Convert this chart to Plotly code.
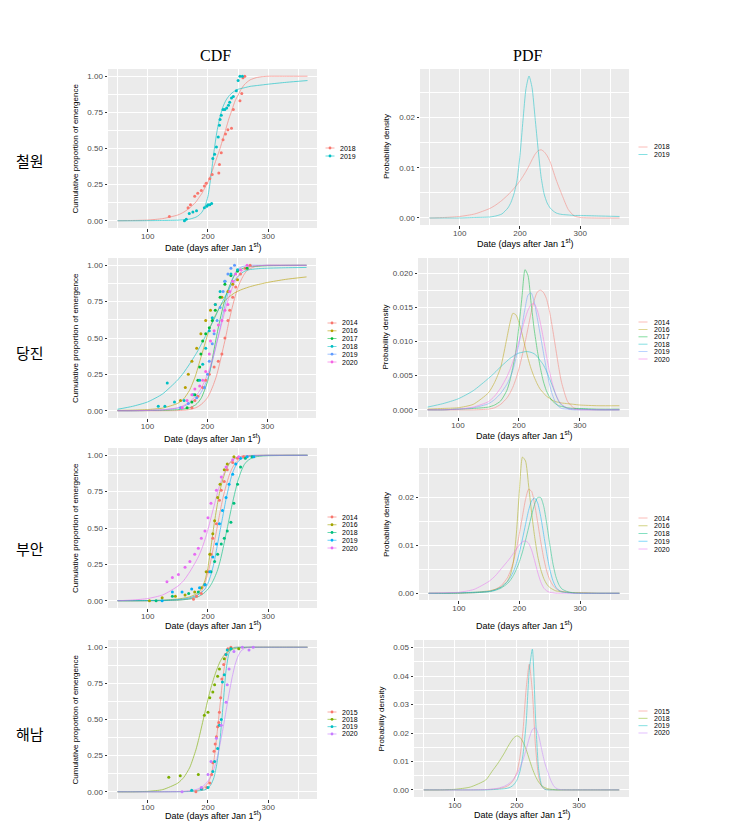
import plotly.graph_objects as go

# ---------------- data ----------------
DAYS = [50, 75, 100, 125, 150, 160, 170, 180, 185, 190, 195, 200, 205, 210, 215, 220,
        225, 230, 235, 240, 245, 250, 255, 260, 265, 270, 280, 290, 300, 330, 365]

# Row 1: 철원
CW_YEARS = ["2018", "2019"]
CW_CDF_2018 = [0.0, 0.002, 0.005, 0.015, 0.04, 0.06, 0.09, 0.13, 0.16, 0.19, 0.23, 0.27, 0.32, 0.38, 0.44, 0.5,
               0.57, 0.64, 0.71, 0.77, 0.83, 0.87, 0.91, 0.94, 0.96, 0.975, 0.99, 0.997, 1.0, 1.0, 1.0]
CW_CDF_2019 = [0, 0, 0.001, 0.002, 0.004, 0.007, 0.012, 0.025, 0.038, 0.06, 0.1, 0.17, 0.31, 0.48, 0.62, 0.72,
               0.79, 0.835, 0.865, 0.885, 0.9, 0.91, 0.915, 0.92, 0.925, 0.93, 0.935, 0.94, 0.945, 0.958, 0.97]
CW_PDF_2018 = [0.0, 0.0001, 0.0003, 0.0008, 0.0019, 0.0026, 0.0035, 0.0046, 0.0052, 0.0059, 0.0066, 0.0074, 0.0083,
               0.0093, 0.0104, 0.0116, 0.0127, 0.0134, 0.0136, 0.0132, 0.0124, 0.0112, 0.0094, 0.0076, 0.006, 0.0045,
               0.0017, 0.0004, 0.0001, 0.0, 0.0]
CW_PDF_2019 = [0, 0, 0.0, 0.0001, 0.0002, 0.0004, 0.0008, 0.002, 0.0031, 0.0048, 0.0074, 0.0125, 0.0195, 0.0258,
               0.0283, 0.026, 0.02, 0.0138, 0.0082, 0.0048, 0.003, 0.002, 0.0014, 0.001, 0.0008, 0.0007, 0.0006,
               0.0005, 0.0005, 0.0004, 0.0003]
CW_OBS_2018_D = [136, 167, 171, 178, 183, 189, 194, 197, 203, 207, 218, 219, 222, 225, 229, 233, 239, 242, 253, 256, 258, 261]
CW_OBS_2018_V = [0.03, 0.09, 0.11, 0.17, 0.19, 0.21, 0.24, 0.26, 0.29, 0.32, 0.33, 0.39, 0.47, 0.56, 0.6, 0.63, 0.64,
                 0.77, 0.83, 0.88, 0.99, 1.0]
CW_OBS_2019_D = [161, 164, 169, 175, 181, 194, 198, 200, 203, 206, 208, 211, 214, 217, 219, 220, 222, 225, 228, 231,
                 234, 236, 239, 242, 247, 250, 253, 257]
CW_OBS_2019_V = [0.0, 0.01, 0.05, 0.06, 0.07, 0.09, 0.1, 0.11, 0.11, 0.12, 0.43, 0.46, 0.51, 0.58, 0.66, 0.7, 0.73,
                 0.77, 0.77, 0.78, 0.8, 0.82, 0.85, 0.86, 0.9, 0.97, 1.0, 1.0]

# Row 2: 당진
DJ_YEARS = ["2014", "2016", "2017", "2018", "2019", "2020"]
DJ_CDF_2014 = [0, 0, 0, 0, 0.001, 0.003, 0.008, 0.02, 0.03, 0.045, 0.065, 0.09, 0.13, 0.18, 0.24, 0.32, 0.41, 0.5,
               0.6, 0.69, 0.77, 0.84, 0.89, 0.93, 0.96, 0.975, 0.992, 0.998, 1, 1, 1]
DJ_CDF_2016 = [0.002, 0.004, 0.008, 0.018, 0.05, 0.08, 0.14, 0.24, 0.31, 0.38, 0.45, 0.52, 0.58, 0.63, 0.67, 0.71,
               0.74, 0.76, 0.78, 0.795, 0.81, 0.82, 0.83, 0.838, 0.845, 0.852, 0.863, 0.873, 0.882, 0.903, 0.92]
DJ_CDF_2017 = [0, 0, 0.001, 0.003, 0.007, 0.012, 0.02, 0.04, 0.06, 0.09, 0.14, 0.2, 0.29, 0.4, 0.51, 0.61, 0.7, 0.78,
               0.84, 0.89, 0.93, 0.955, 0.97, 0.98, 0.985, 0.99, 0.993, 0.995, 0.997, 0.999, 1]
DJ_CDF_2018 = [0.01, 0.03, 0.06, 0.115, 0.21, 0.26, 0.32, 0.385, 0.42, 0.46, 0.5, 0.54, 0.58, 0.62, 0.665, 0.71,
               0.75, 0.79, 0.83, 0.865, 0.895, 0.92, 0.94, 0.955, 0.965, 0.97, 0.975, 0.978, 0.98, 0.983, 0.985]
DJ_CDF_2019 = [0, 0, 0.002, 0.006, 0.018, 0.03, 0.05, 0.08, 0.1, 0.13, 0.17, 0.22, 0.29, 0.37, 0.46, 0.55, 0.65,
               0.74, 0.82, 0.89, 0.94, 0.97, 0.985, 0.993, 0.997, 1, 1, 1, 1, 1, 1]
DJ_CDF_2020 = [0, 0, 0.002, 0.006, 0.02, 0.035, 0.06, 0.1, 0.125, 0.16, 0.2, 0.25, 0.31, 0.38, 0.46, 0.54, 0.62,
               0.7, 0.77, 0.83, 0.88, 0.92, 0.95, 0.97, 0.982, 0.99, 0.996, 0.998, 1, 1, 1]
DJ_PDF_2014 = [0, 0, 0, 0, 0.0001, 0.0003, 0.0008, 0.0017, 0.0024, 0.0033, 0.0045, 0.006, 0.0078, 0.0098, 0.012,
               0.0142, 0.016, 0.0172, 0.0175, 0.0172, 0.0163, 0.0145, 0.012, 0.0092, 0.0064, 0.004, 0.0012, 0.0003,
               0.0001, 0, 0]
DJ_PDF_2016 = [0.0001, 0.0002, 0.0003, 0.0008, 0.0025, 0.004, 0.0062, 0.0104, 0.0126, 0.0141, 0.0139, 0.0128,
               0.0112, 0.0093, 0.0075, 0.006, 0.0048, 0.0038, 0.003, 0.0025, 0.002, 0.0017, 0.0014, 0.0012, 0.0011,
               0.001, 0.0009, 0.0008, 0.0007, 0.0006, 0.0006]
DJ_PDF_2017 = [0, 0, 0.0001, 0.0002, 0.0004, 0.0007, 0.0013, 0.0028, 0.0042, 0.0062, 0.0086, 0.0122, 0.0165, 0.0205,
               0.0196, 0.0156, 0.0118, 0.0088, 0.0062, 0.0042, 0.0028, 0.0019, 0.0013, 0.0009, 0.0006, 0.0005,
               0.0003, 0.0002, 0.0002, 0.0001, 0.0001]
DJ_PDF_2018 = [0.0004, 0.0009, 0.0016, 0.0028, 0.0046, 0.0054, 0.0063, 0.0071, 0.0075, 0.0078, 0.0081, 0.0083,
               0.0084, 0.0085, 0.0085, 0.0084, 0.0082, 0.0078, 0.0072, 0.0066, 0.0057, 0.0046, 0.0035, 0.0023,
               0.0013, 0.0007, 0.0002, 0.0001, 0.0001, 0, 0]
DJ_PDF_2019 = [0, 0, 0.0001, 0.0003, 0.0009, 0.0015, 0.0024, 0.0037, 0.0046, 0.0058, 0.0075, 0.0096, 0.0122, 0.0148,
               0.0168, 0.0171, 0.0158, 0.0135, 0.011, 0.0085, 0.006, 0.0038, 0.0022, 0.0011, 0.0005, 0.0002, 0.0001,
               0, 0, 0, 0]
DJ_PDF_2020 = [0, 0, 0.0001, 0.0004, 0.0012, 0.002, 0.0032, 0.0048, 0.0058, 0.007, 0.0084, 0.01, 0.0117, 0.0133,
               0.0146, 0.0154, 0.0155, 0.0146, 0.0128, 0.0105, 0.008, 0.0057, 0.0038, 0.0024, 0.0014, 0.0008,
               0.0002, 0.0001, 0, 0, 0]
DJ_OBS_2014_D = [174, 179, 184, 192, 197, 203, 211, 218, 224, 229, 234, 237, 242, 247, 255, 263, 271]
DJ_OBS_2014_V = [0.02, 0.07, 0.1, 0.16, 0.21, 0.25, 0.3, 0.34, 0.39, 0.5, 0.62, 0.69, 0.78, 0.85, 0.94, 0.98, 1.0]
DJ_OBS_2016_D = [155, 163, 168, 174, 182, 189, 197, 205, 213, 224, 234, 242, 250]
DJ_OBS_2016_V = [0.07, 0.16, 0.25, 0.34, 0.43, 0.53, 0.62, 0.69, 0.73, 0.78, 0.82, 0.87, 0.9]
DJ_OBS_2017_D = [166, 174, 179, 184, 187, 189, 192, 197, 203, 208, 213, 221, 229, 239, 250, 266]
DJ_OBS_2017_V = [0.02, 0.06, 0.11, 0.21, 0.3, 0.39, 0.48, 0.53, 0.57, 0.62, 0.69, 0.78, 0.87, 0.93, 0.96, 0.98]
DJ_OBS_2018_D = [118, 129, 133, 145, 161, 176, 187, 192, 197, 203, 208, 213, 221, 229, 239, 250]
DJ_OBS_2018_V = [0.03, 0.03, 0.19, 0.06, 0.07, 0.11, 0.21, 0.32, 0.43, 0.55, 0.64, 0.73, 0.82, 0.89, 0.94, 0.97]
DJ_OBS_2019_D = [155, 168, 182, 195, 200, 203, 208, 211, 216, 221, 226, 229, 234, 239, 245]
DJ_OBS_2019_V = [0.02, 0.05, 0.09, 0.16, 0.25, 0.34, 0.46, 0.53, 0.62, 0.71, 0.82, 0.89, 0.94, 0.98, 1.0]
DJ_OBS_2020_D = [158, 166, 174, 179, 187, 192, 197, 203, 205, 211, 218, 224, 229, 234, 237, 242, 247, 255, 266]
DJ_OBS_2020_V = [0.02, 0.07, 0.11, 0.15, 0.17, 0.21, 0.27, 0.39, 0.48, 0.55, 0.59, 0.62, 0.69, 0.73, 0.82, 0.89,
                 0.94, 0.97, 1.0]

# Row 3: 부안
BA_YEARS = ["2014", "2016", "2018", "2019", "2020"]
BA_CDF_2014 = [0, 0, 0, 0.001, 0.004, 0.008, 0.015, 0.03, 0.045, 0.07, 0.12, 0.19, 0.28, 0.39, 0.5, 0.61, 0.71,
               0.79, 0.86, 0.91, 0.945, 0.965, 0.978, 0.986, 0.99, 0.993, 0.996, 0.998, 0.999, 1, 1]
BA_CDF_2016 = [0, 0, 0.001, 0.004, 0.012, 0.018, 0.027, 0.045, 0.06, 0.09, 0.14, 0.23, 0.37, 0.52, 0.65, 0.76, 0.84,
               0.9, 0.94, 0.965, 0.98, 0.988, 0.993, 0.995, 0.997, 0.998, 0.999, 1, 1, 1, 1]
BA_CDF_2018 = [0, 0, 0, 0.001, 0.004, 0.007, 0.012, 0.022, 0.03, 0.042, 0.058, 0.08, 0.11, 0.15, 0.2, 0.27, 0.36,
               0.46, 0.56, 0.66, 0.75, 0.83, 0.89, 0.935, 0.96, 0.975, 0.99, 0.995, 0.997, 0.999, 1]
BA_CDF_2019 = [0, 0, 0.001, 0.003, 0.008, 0.013, 0.02, 0.035, 0.045, 0.06, 0.08, 0.12, 0.18, 0.26, 0.37, 0.48, 0.59,
               0.7, 0.79, 0.87, 0.92, 0.955, 0.975, 0.987, 0.993, 0.996, 0.998, 0.999, 1, 1, 1]
BA_CDF_2020 = [0.0, 0.005, 0.015, 0.04, 0.1, 0.14, 0.2, 0.27, 0.31, 0.36, 0.42, 0.49, 0.57, 0.65, 0.73, 0.8, 0.86,
               0.91, 0.945, 0.965, 0.98, 0.988, 0.993, 0.996, 0.998, 0.999, 1, 1, 1, 1, 1]
BA_PDF_2014 = [0, 0, 0, 0.0001, 0.0004, 0.0008, 0.0016, 0.0032, 0.0046, 0.0066, 0.0092, 0.0125, 0.016, 0.0195,
               0.0216, 0.0212, 0.0185, 0.0148, 0.0108, 0.0073, 0.0046, 0.0028, 0.0017, 0.001, 0.0006, 0.0004,
               0.0002, 0.0001, 0.0001, 0, 0]
BA_PDF_2016 = [0, 0, 0.0001, 0.0002, 0.0005, 0.0008, 0.0013, 0.0025, 0.0038, 0.0065, 0.0125, 0.0215, 0.0283, 0.0275,
               0.0225, 0.0168, 0.0118, 0.0078, 0.005, 0.0031, 0.0019, 0.0012, 0.0008, 0.0005, 0.0004, 0.0003,
               0.0002, 0.0001, 0.0001, 0, 0]
BA_PDF_2018 = [0, 0, 0, 0.0001, 0.0003, 0.0006, 0.0011, 0.002, 0.0027, 0.0037, 0.005, 0.0066, 0.0086, 0.011, 0.0136,
               0.0162, 0.0185, 0.0199, 0.0199, 0.0181, 0.0145, 0.0102, 0.0063, 0.0035, 0.0018, 0.0009, 0.0003,
               0.0001, 0, 0, 0]
BA_PDF_2019 = [0, 0, 0.0001, 0.0002, 0.0004, 0.0007, 0.0013, 0.0024, 0.0033, 0.0045, 0.0062, 0.0085, 0.0113, 0.0143,
               0.0172, 0.0192, 0.0198, 0.0188, 0.016, 0.0122, 0.0083, 0.005, 0.0027, 0.0013, 0.0006, 0.0003, 0.0001,
               0, 0, 0, 0]
BA_PDF_2020 = [0, 0.0001, 0.0002, 0.0008, 0.0025, 0.0036, 0.0051, 0.0066, 0.0074, 0.0083, 0.0092, 0.0101, 0.0107,
               0.0109, 0.0104, 0.009, 0.0068, 0.0044, 0.0024, 0.0011, 0.0005, 0.0002, 0.0001, 0, 0, 0, 0, 0, 0, 0, 0]
BA_OBS_2014_D = [176, 181, 189, 195, 200, 205, 208, 214, 219, 222, 227, 232, 241, 249, 259]
BA_OBS_2014_V = [0.01, 0.03, 0.05, 0.11, 0.2, 0.32, 0.43, 0.53, 0.69, 0.76, 0.82, 0.9, 0.95, 0.98, 0.99]
BA_OBS_2016_D = [103, 124, 146, 162, 178, 189, 197, 203, 208, 211, 216, 220, 227, 232, 243]
BA_OBS_2016_V = [0.0, 0.02, 0.03, 0.04, 0.06, 0.09, 0.2, 0.32, 0.46, 0.55, 0.71, 0.8, 0.9, 0.94, 0.99]
BA_OBS_2018_D = [114, 141, 168, 184, 195, 205, 211, 216, 222, 227, 232, 238, 243, 249, 254, 262, 273]
BA_OBS_2018_V = [0.0, 0.03, 0.05, 0.06, 0.11, 0.2, 0.27, 0.32, 0.39, 0.43, 0.48, 0.54, 0.67, 0.8, 0.92, 0.98, 0.99]
BA_OBS_2019_D = [124, 141, 157, 173, 186, 195, 203, 208, 214, 219, 224, 230, 235, 241, 246, 254, 265, 276]
BA_OBS_2019_V = [0.0, 0.06, 0.06, 0.08, 0.09, 0.11, 0.2, 0.3, 0.39, 0.53, 0.62, 0.71, 0.8, 0.87, 0.94, 0.98, 0.99, 0.99]
BA_OBS_2020_D = [132, 141, 151, 162, 170, 178, 184, 189, 195, 200, 205, 214, 222, 230, 241, 251]
BA_OBS_2020_V = [0.13, 0.16, 0.18, 0.23, 0.27, 0.32, 0.36, 0.43, 0.48, 0.57, 0.67, 0.76, 0.85, 0.92, 0.97, 0.99]

# Row 4: 해남
HN_YEARS = ["2015", "2018", "2019", "2020"]
HN_CDF_2015 = [0, 0, 0, 0, 0.001, 0.002, 0.004, 0.008, 0.012, 0.02, 0.035, 0.06, 0.11, 0.22, 0.4, 0.6, 0.8, 0.93,
               0.98, 0.995, 1, 1, 1, 1, 1, 1, 1, 1, 1, 1, 1]
HN_CDF_2018 = [0, 0, 0.003, 0.015, 0.06, 0.1, 0.17, 0.29, 0.37, 0.46, 0.55, 0.64, 0.72, 0.79, 0.85, 0.9, 0.935,
               0.96, 0.975, 0.985, 0.99, 0.995, 0.997, 0.998, 0.999, 1, 1, 1, 1, 1, 1]
HN_CDF_2019 = [0, 0, 0, 0, 0.0005, 0.001, 0.002, 0.004, 0.006, 0.009, 0.014, 0.025, 0.05, 0.1, 0.2, 0.36, 0.6,
               0.84, 0.96, 0.99, 0.998, 1, 1, 1, 1, 1, 1, 1, 1, 1, 1]
HN_CDF_2020 = [0, 0, 0, 0, 0.001, 0.003, 0.007, 0.015, 0.022, 0.033, 0.05, 0.075, 0.11, 0.16, 0.23, 0.33, 0.44,
               0.56, 0.68, 0.79, 0.88, 0.94, 0.975, 0.99, 0.997, 1, 1, 1, 1, 1, 1]
HN_PDF_2015 = [0, 0, 0, 0, 0.0001, 0.0002, 0.0004, 0.0009, 0.0014, 0.0022, 0.0036, 0.0062, 0.0115, 0.021, 0.0355,
               0.0442, 0.0345, 0.0155, 0.0048, 0.0012, 0.0003, 0.0001, 0, 0, 0, 0, 0, 0, 0, 0, 0]
HN_PDF_2018 = [0, 0, 0.0002, 0.001, 0.0035, 0.0065, 0.0095, 0.013, 0.015, 0.0168, 0.0183, 0.019, 0.0185, 0.0168,
               0.0142, 0.0108, 0.0075, 0.0048, 0.0028, 0.0015, 0.0008, 0.0004, 0.0002, 0.0001, 0, 0, 0, 0, 0, 0, 0]
HN_PDF_2019 = [0, 0, 0, 0, 0, 0.0001, 0.0002, 0.0004, 0.0006, 0.001, 0.0018, 0.0034, 0.0065, 0.0125, 0.0235, 0.042,
               0.0495, 0.026, 0.0075, 0.0015, 0.0002, 0, 0, 0, 0, 0, 0, 0, 0, 0, 0]
HN_PDF_2020 = [0, 0, 0, 0, 0.0001, 0.0003, 0.0006, 0.0013, 0.0019, 0.0027, 0.0039, 0.0055, 0.0077, 0.0106, 0.0142,
               0.0182, 0.0212, 0.0218, 0.0192, 0.0142, 0.0095, 0.0062, 0.0032, 0.0012, 0.0004, 0.0001, 0, 0, 0, 0, 0]
HN_OBS_2015_D = [180, 190, 198, 203, 206, 208, 210, 212, 214, 216, 218, 219, 221, 223, 226, 229, 233, 238]
HN_OBS_2015_V = [0.0, 0.02, 0.03, 0.06, 0.12, 0.2, 0.28, 0.33, 0.38, 0.45, 0.48, 0.55, 0.65, 0.78, 0.88, 0.95, 0.99, 1.0]
HN_OBS_2018_D = [135, 154, 184, 194, 200, 203, 208, 211, 216, 219, 227, 238, 251]
HN_OBS_2018_V = [0.10, 0.11, 0.12, 0.53, 0.55, 0.65, 0.69, 0.74, 0.8, 0.85, 0.92, 0.99, 0.99]
HN_OBS_2019_D = [173, 189, 200, 208, 211, 216, 219, 222, 224, 227, 230, 232, 238]
HN_OBS_2019_V = [0.01, 0.02, 0.03, 0.14, 0.21, 0.3, 0.46, 0.5, 0.76, 0.81, 0.95, 0.98, 0.99]
HN_OBS_2020_D = [157, 189, 200, 205, 214, 222, 230, 232, 235, 243, 257, 268, 275]
HN_OBS_2020_V = [0.0, 0.03, 0.12, 0.21, 0.37, 0.46, 0.62, 0.74, 0.85, 0.97, 1.0, 0.98, 1.0]

ROW_LABELS = ["철원", "당진", "부안", "해남"]
COL_TITLES = ["CDF", "PDF"]
X_TICKS = [100, 200, 300]
CDF_TICKS = [0, 0.25, 0.5, 0.75, 1.0]
PDF_TICKS = [[0, 0.01, 0.02], [0, 0.005, 0.01, 0.015, 0.02], [0, 0.01, 0.02], [0, 0.01, 0.02, 0.03, 0.04, 0.05]]

# ---------------- assemble ----------------
ROWS = [
    dict(years=CW_YEARS, colors=['#F8766D', '#00BFC4'],
         cdf=[CW_CDF_2018, CW_CDF_2019], pdf=[CW_PDF_2018, CW_PDF_2019],
         obs=[(CW_OBS_2018_D, CW_OBS_2018_V), (CW_OBS_2019_D, CW_OBS_2019_V)]),
    dict(years=DJ_YEARS, colors=['#F8766D', '#B79F00', '#00BA38', '#00BFC4', '#619CFF', '#F564E3'],
         cdf=[DJ_CDF_2014, DJ_CDF_2016, DJ_CDF_2017, DJ_CDF_2018, DJ_CDF_2019, DJ_CDF_2020],
         pdf=[DJ_PDF_2014, DJ_PDF_2016, DJ_PDF_2017, DJ_PDF_2018, DJ_PDF_2019, DJ_PDF_2020],
         obs=[(DJ_OBS_2014_D, DJ_OBS_2014_V), (DJ_OBS_2016_D, DJ_OBS_2016_V), (DJ_OBS_2017_D, DJ_OBS_2017_V),
              (DJ_OBS_2018_D, DJ_OBS_2018_V), (DJ_OBS_2019_D, DJ_OBS_2019_V), (DJ_OBS_2020_D, DJ_OBS_2020_V)]),
    dict(years=BA_YEARS, colors=['#F8766D', '#A3A500', '#00BF7D', '#00B0F6', '#E76BF3'],
         cdf=[BA_CDF_2014, BA_CDF_2016, BA_CDF_2018, BA_CDF_2019, BA_CDF_2020],
         pdf=[BA_PDF_2014, BA_PDF_2016, BA_PDF_2018, BA_PDF_2019, BA_PDF_2020],
         obs=[(BA_OBS_2014_D, BA_OBS_2014_V), (BA_OBS_2016_D, BA_OBS_2016_V), (BA_OBS_2018_D, BA_OBS_2018_V),
              (BA_OBS_2019_D, BA_OBS_2019_V), (BA_OBS_2020_D, BA_OBS_2020_V)]),
    dict(years=HN_YEARS, colors=['#F8766D', '#7CAE00', '#00BFC4', '#C77CFF'],
         cdf=[HN_CDF_2015, HN_CDF_2018, HN_CDF_2019, HN_CDF_2020],
         pdf=[HN_PDF_2015, HN_PDF_2018, HN_PDF_2019, HN_PDF_2020],
         obs=[(HN_OBS_2015_D, HN_OBS_2015_V), (HN_OBS_2018_D, HN_OBS_2018_V), (HN_OBS_2019_D, HN_OBS_2019_V),
              (HN_OBS_2020_D, HN_OBS_2020_V)]),
]

# ---------------- layout geometry (window pixels) ----------------
W, H = 729, 823
def px(x): return x / W
def py(y): return 1 - y / H

# (left, right, top, bottom) of each grey panel, in window pixels
BOX = [
    [(108, 317, 69, 228), (420, 629, 69, 225)],
    [(108, 316, 258, 418), (418, 629, 258, 417)],
    [(108, 317, 448, 608), (419, 629, 448, 600)],
    [(108, 317, 640, 799), (414, 629, 640, 797)],
]
PDF_RANGES = [[-0.0014, 0.0297], [-0.00105, 0.0222], [-0.0014, 0.0302], [-0.0025, 0.0527]]
PDF_FMT = ["{:.2f}", "{:.3f}", "{:.2f}", "{:.2f}"]
XTITLE_Y = [[247, 243], [438, 435], [625, 625], [815, 814]]
LEG = [[(330, 338, 148, 8.0), (643, 652, 147, 7.5)],
       [(332, 340, 323, 7.8), (643, 652, 322, 7.4)],
       [(332, 340, 517, 7.75), (643, 652, 518, 7.75)],
       [(332, 340, 712, 7.33), (643, 652, 711, 7.33)]]
ROW_LABEL_Y = [160, 352, 548, 733]

TICKFONT = dict(family="Liberation Sans", size=8, color="#4D4D4D")
TITLEFONT = dict(family="Liberation Sans", size=9, color="#000000")

fig = go.Figure()
layout = dict(width=W, height=H, margin=dict(l=0, r=0, t=0, b=0, pad=0), paper_bgcolor="white",
              plot_bgcolor="#EBEBEB", showlegend=False, annotations=[], shapes=[])

k = 0
for r, row in enumerate(ROWS):
    for c in range(2):
        k += 1
        sx = "" if k == 1 else str(k)
        xa, ya = "x" + sx, "y" + sx
        l, rr, t, b = BOX[r][c]
        xaxis = dict(domain=[px(l), px(rr)], anchor=ya, range=[34.25, 380.75], tickvals=X_TICKS,
                     ticktext=[str(v) for v in X_TICKS], ticks="outside", ticklen=2.5, tickwidth=0.7,
                     tickcolor="#333333", showgrid=True, gridcolor="white", gridwidth=1, zeroline=False,
                     showline=False, tickfont=TICKFONT, fixedrange=True, ticklabelstandoff=-2,
                     minor=dict(tickvals=[50, 150, 250, 350], showgrid=True, gridcolor="white", gridwidth=0.5))
        if c == 0:
            yt = CDF_TICKS
            yr = [-0.05, 1.05]
            ytxt = ["{:.2f}".format(v) for v in yt]
            yminor = [0.125, 0.375, 0.625, 0.875]
            ytitle = "Cumulative proportion of emergence"
        else:
            yt = PDF_TICKS[r]
            yr = PDF_RANGES[r]
            ytxt = [PDF_FMT[r].format(v) for v in yt]
            step = yt[1] - yt[0]
            yminor = [v + step / 2 for v in yt]
            ytitle = "Probability density"
        yaxis = dict(domain=[py(b), py(t)], anchor=xa, range=yr, tickvals=yt, ticktext=ytxt, ticks="outside",
                     ticklen=2.5, tickwidth=0.7, tickcolor="#333333", showgrid=True, gridcolor="white",
                     gridwidth=1, zeroline=False, showline=False, tickfont=TICKFONT, fixedrange=True,
                     minor=dict(tickvals=yminor, showgrid=True, gridcolor="white", gridwidth=0.5))
        layout["xaxis" + sx] = xaxis
        layout["yaxis" + sx] = yaxis

        # traces
        for i, yr_name in enumerate(row["years"]):
            col = row["colors"][i]
            vals = row["cdf"][i] if c == 0 else row["pdf"][i]
            fig.add_trace(go.Scatter(x=DAYS, y=vals, mode="lines", xaxis=xa, yaxis=ya,
                                     line=dict(color=col, width=0.8, shape="spline", smoothing=0.6),
                                     opacity=0.75 if c == 0 else 0.6, name=yr_name, hoverinfo="skip"))
        if c == 0:
            for i, yr_name in enumerate(row["years"]):
                d, v = row["obs"][i]
                fig.add_trace(go.Scatter(x=d, y=v, mode="markers", xaxis=xa, yaxis=ya,
                                         marker=dict(color=row["colors"][i], size=3, line=dict(width=0)),
                                         name=yr_name, hoverinfo="skip"))

        # axis titles
        layout["annotations"].append(dict(
            text="Date (days after Jan 1<sup>st</sup>)", x=px((l + rr) / 2), y=py(XTITLE_Y[r][c]),
            xref="paper", yref="paper", showarrow=False, xanchor="center", yanchor="middle", font=TITLEFONT))
        layout["annotations"].append(dict(
            text=ytitle, x=px(l - 33), y=py((t + b) / 2), xref="paper", yref="paper", showarrow=False,
            textangle=-90, xanchor="center", yanchor="middle", font=dict(TITLEFONT, size=8)))

        # legend (drawn manually, ggplot style)
        kx, tx, y0, dy = LEG[r][c]
        for i, yr_name in enumerate(row["years"]):
            col = row["colors"][i]
            yy = y0 + i * dy
            layout["shapes"].append(dict(type="line", xref="paper", yref="paper", x0=px(kx - 4.5),
                                         x1=px(kx + 4.5), y0=py(yy), y1=py(yy),
                                         line=dict(color=col, width=0.8), opacity=0.75 if c == 0 else 0.6))
            if c == 0:
                layout["shapes"].append(dict(type="circle", xref="paper", yref="paper", x0=px(kx - 1.4),
                                             x1=px(kx + 1.4), y0=py(yy - 1.4), y1=py(yy + 1.4),
                                             fillcolor=col, line=dict(width=0)))
            layout["annotations"].append(dict(text=yr_name, x=px(tx), y=py(yy), xref="paper", yref="paper",
                                              showarrow=False, xanchor="left", yanchor="middle",
                                              font=dict(family="Liberation Sans", size=7, color="#000000")))

# column titles and row labels
for c, title in enumerate(COL_TITLES):
    l, rr, t, b = BOX[0][c]
    layout["annotations"].append(dict(text=title, x=px((l + rr) / 2 + 3), y=py(55), xref="paper", yref="paper",
                                      showarrow=False, xanchor="center", yanchor="middle",
                                      font=dict(family="Liberation Serif", size=16, color="#000000")))
for r, lab in enumerate(ROW_LABELS):
    layout["annotations"].append(dict(text=lab, x=px(30), y=py(ROW_LABEL_Y[r]), xref="paper", yref="paper",
                                      showarrow=False, xanchor="center", yanchor="middle",
                                      font=dict(family="Noto Sans CJK KR", size=15, color="#000000")))

fig.update_layout(**layout)
# remove the page's default 8px body margin so the 729x823 figure fills the window exactly
fig.write_html("out.html", config={"displayModeBar": False},
               post_script="document.body.style.margin='0px';")
